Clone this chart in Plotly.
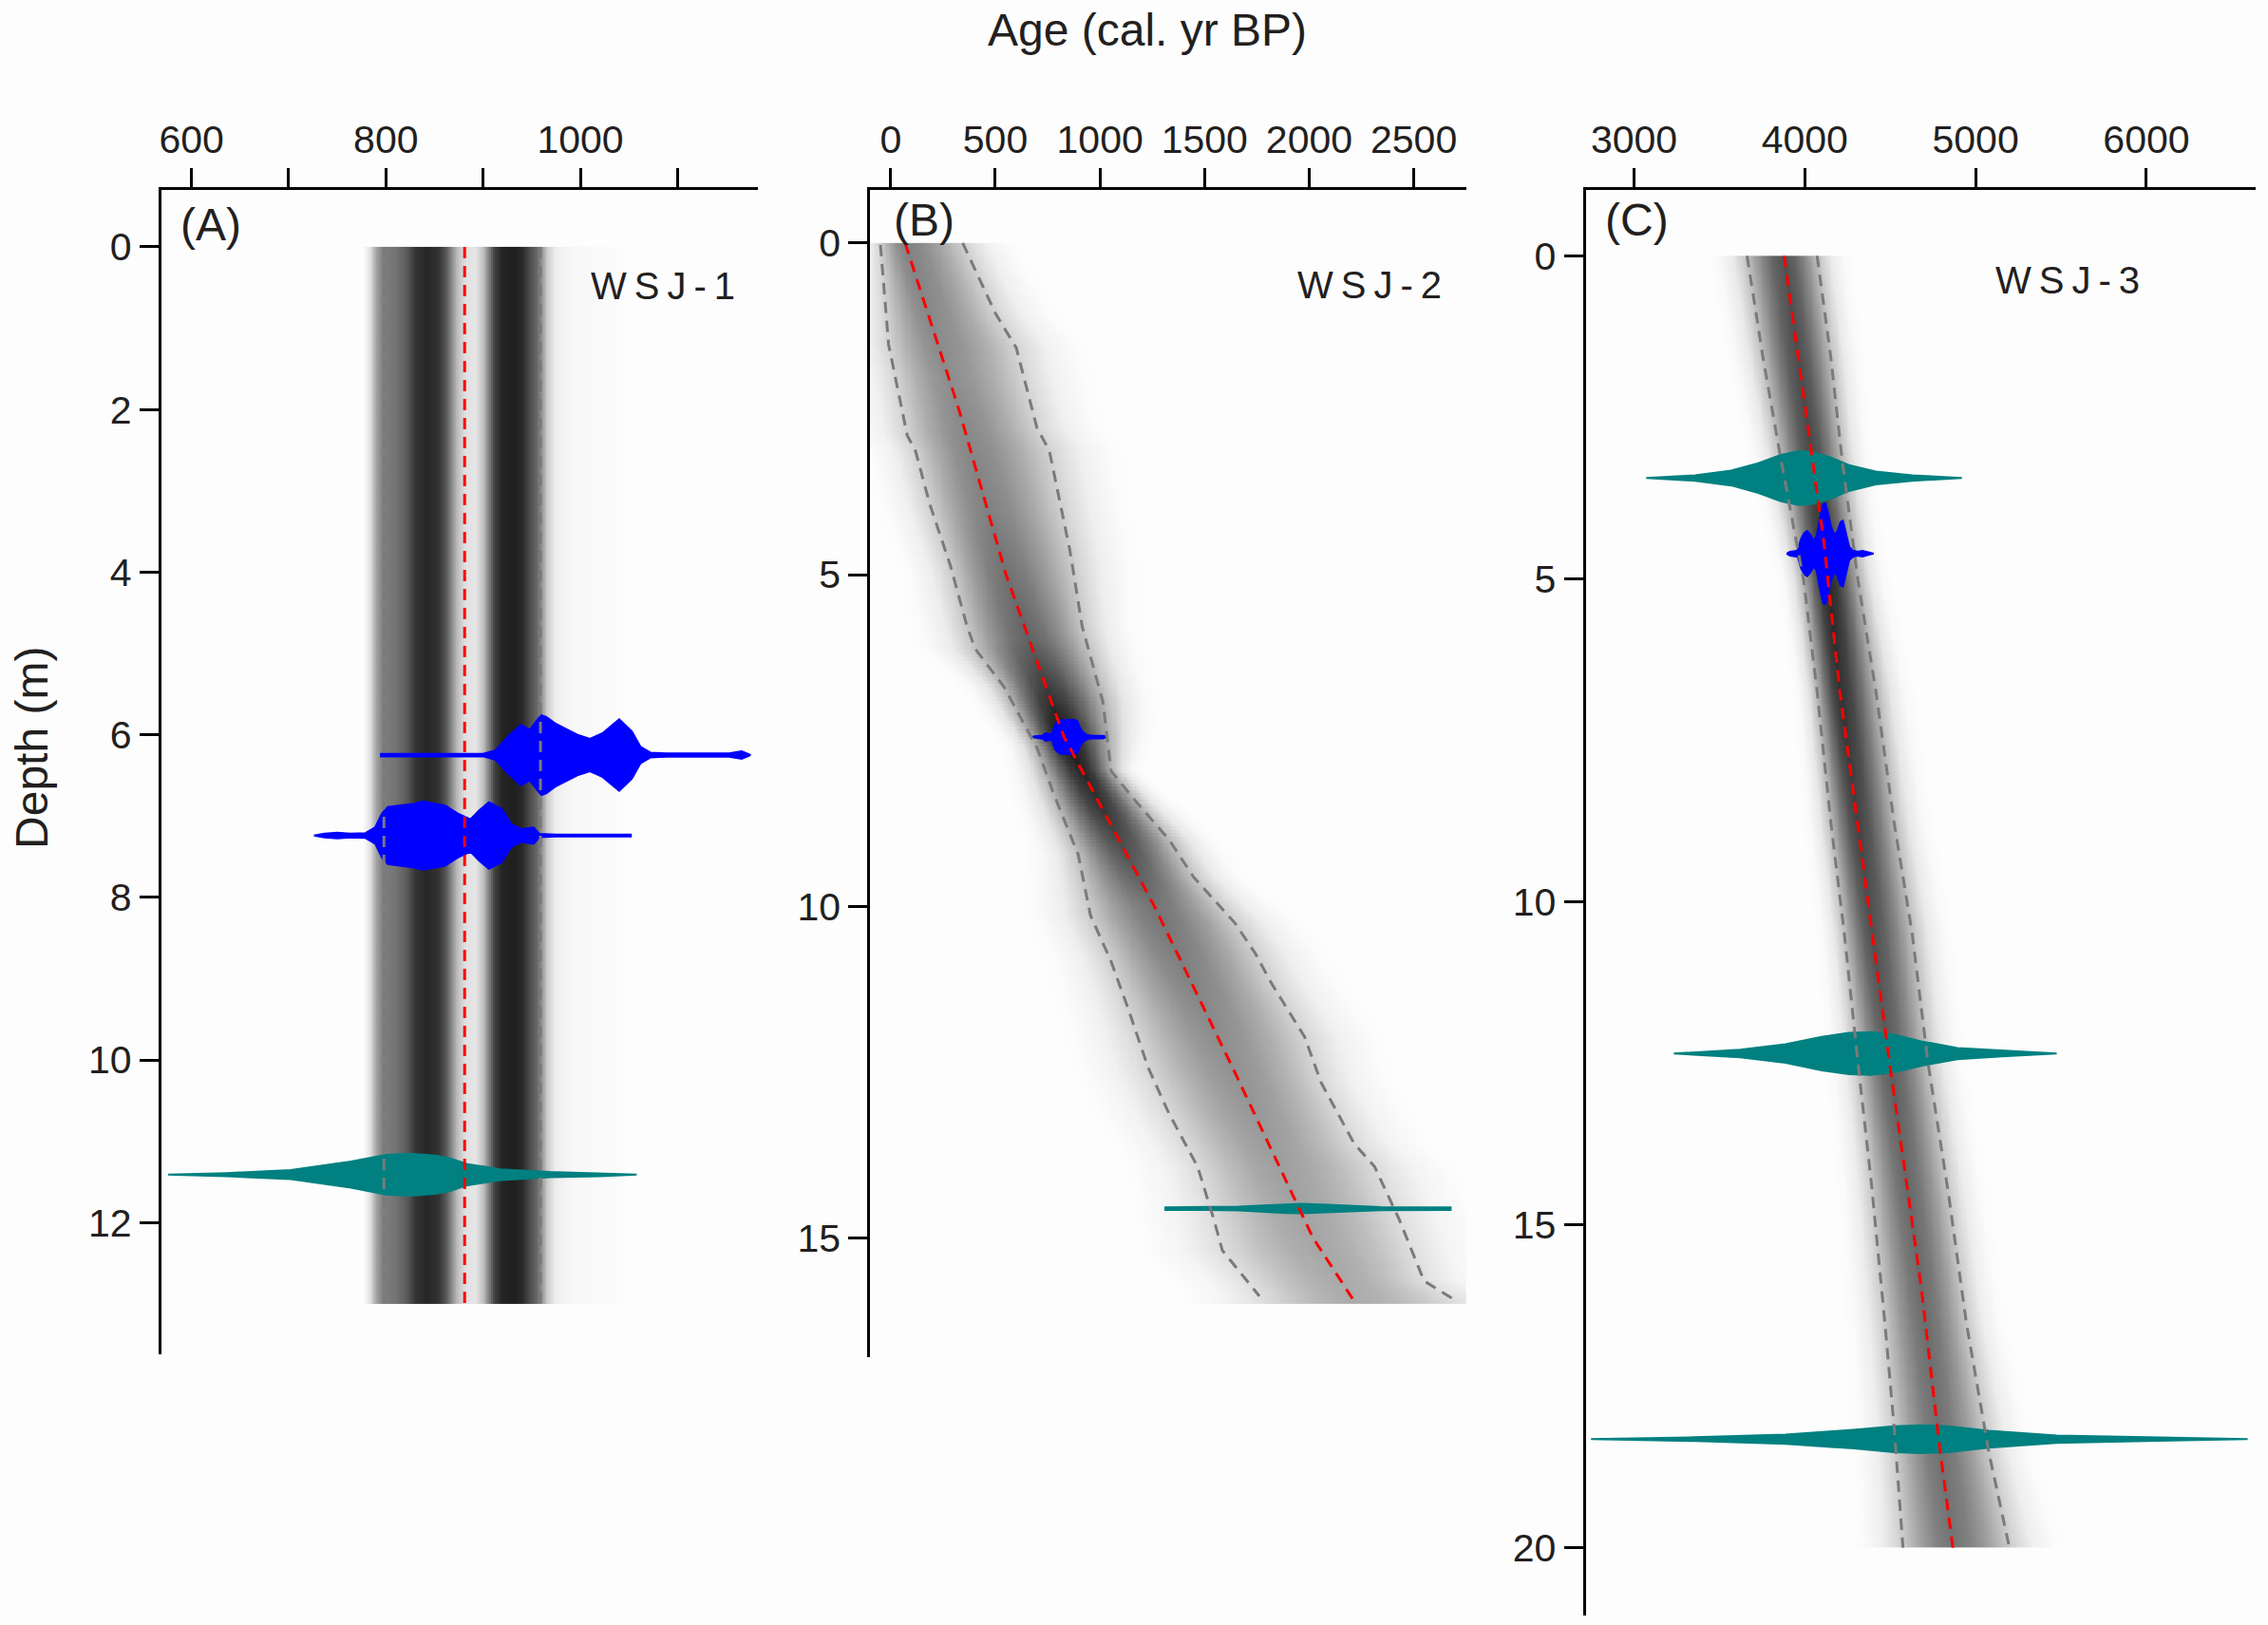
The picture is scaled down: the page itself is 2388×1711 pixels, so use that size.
import numpy as np
import plotly.graph_objects as go

W, H = 2388, 1711
FONT = "Liberation Sans, Arial, sans-serif"
TXT = "#231f20"

# ==========================================
# WSJ-1 (panel A)
# ==========================================
a_depth = [0, 13]
a_mean = [881, 881]
a_lower = [798, 798]
a_upper = [959, 959]
# grey shading across age (model is bimodal, constant with depth)
a_shade_age = [776, 784, 790, 797, 810, 822, 831, 843, 854, 862, 868, 874, 882, 892,
               900, 906, 912, 920, 932, 940, 948, 955, 960, 966, 975, 990, 1040, 1062]
a_shade_val = [0, 0.12, 0.35, 0.5, 0.55, 0.65, 0.8, 0.85, 0.8, 0.65, 0.45, 0.25, 0.12, 0.1,
               0.25, 0.5, 0.75, 0.86, 0.88, 0.84, 0.7, 0.6, 0.45, 0.2, 0.07, 0.03, 0.015, 0]

a_blue1_depth = 6.25
a_blue1_age = [794, 900, 913, 926, 939, 948, 957, 960, 965, 974, 984, 997, 1010, 1023,
               1040, 1053, 1062, 1072, 1088, 1121, 1153, 1166, 1175]
a_blue1_half = [0.016, 0.016, 0.06, 0.23, 0.37, 0.31, 0.45, 0.49, 0.47, 0.39, 0.33, 0.25,
                0.2, 0.27, 0.44, 0.29, 0.1, 0.03, 0.02, 0.02, 0.02, 0.047, 0]

a_blue2_depth = 7.24
a_blue2_age = [726, 737, 750, 763, 779, 789, 796, 802, 815, 828, 838, 851, 861, 874, 887,
               896, 906, 919, 929, 939, 952, 958, 975, 1052]
a_blue2_half = [0, 0.023, 0.035, 0.023, 0.03, 0.1, 0.27, 0.35, 0.37, 0.39, 0.42, 0.39,
                0.37, 0.27, 0.2, 0.31, 0.41, 0.33, 0.14, 0.08, 0.1, 0.02, 0.012, 0.012]

a_teal_depth = 11.41
a_teal_age = [576, 636, 702, 764, 800, 825, 851, 866, 884, 918, 969, 1020, 1058]
a_teal_half = [0, 0.019, 0.056, 0.16, 0.244, 0.258, 0.235, 0.2, 0.13, 0.066, 0.033, 0.019, 0]

# ==========================================
# WSJ-2 (panel B)
# ==========================================
b_mean_depth = [0, 2.5, 5, 7.44, 10, 12.5, 15, 16]
b_mean_age = [69, 325, 551, 827, 1260, 1644, 2018, 2224]
b_lower_depth = [0.03, 1.53, 2.9, 3.13, 3.94, 4.86, 5.77, 6.12, 6.69, 7.61, 8.3, 9.22,
                 10.14, 10.83, 11.52, 12.43, 13.12, 13.93, 14.73, 15.19, 15.88]
b_lower_age = [-49, -10, 79, 118, 187, 285, 364, 404, 541, 699, 778, 896,
               955, 1053, 1132, 1230, 1329, 1467, 1545, 1585, 1762]
b_upper_depth = [0, 1.07, 1.58, 2.79, 3.13, 4.63, 5.78, 6.92, 7.96, 8.42, 8.99, 9.56,
                 10.25, 10.71, 11.17, 11.97, 12.66, 13.58, 13.93, 14.73, 15.65, 15.96]
b_upper_age = [344, 502, 600, 699, 758, 856, 915, 1014, 1053, 1171, 1329, 1447,
               1644, 1742, 1821, 1978, 2057, 2215, 2313, 2431, 2549, 2707]
b_peak_depth = [0, 2, 4, 6, 7.4, 8.5, 10, 12, 14, 16]
b_peak_val = [0.5, 0.45, 0.5, 0.62, 0.92, 0.8, 0.55, 0.45, 0.38, 0.33]

b_blue_depth = 7.45
b_blue_age = [673, 688, 726, 741, 756, 771, 783, 794, 809, 832, 877, 892, 904, 915, 925,
              941, 968, 1013, 1036]
b_blue_half = [0, 0.014, 0.024, 0.057, 0.048, 0.038, 0.167, 0.215, 0.25, 0.26, 0.26,
               0.24, 0.14, 0.086, 0.057, 0.029, 0.019, 0.019, 0]

b_teal_depth = 14.56
b_teal_age = [1308, 1512, 1663, 1784, 1890, 1965, 2086, 2222, 2343, 2495, 2676]
b_teal_half = [0.019, 0.019, 0.029, 0.048, 0.067, 0.072, 0.057, 0.038, 0.024, 0.019, 0.019]

# ==========================================
# WSJ-3 (panel C)
# ==========================================
c_mean_depth = [0, 4.44, 6.74, 9.9, 12.49, 15.95, 18.39, 20]
c_mean_age = [3879, 4112, 4205, 4364, 4496, 4681, 4787, 4867]
c_lower_depth = [0, 1.57, 3.15, 5.02, 6.74, 8.76, 10.48, 12.49, 14.36, 16.52, 18.1, 20]
c_lower_age = [3662, 3755, 3860, 3993, 4072, 4152, 4231, 4311, 4390, 4469, 4522, 4575]
c_upper_depth = [0, 1.57, 3.15, 5.02, 6.74, 8.76, 10.48, 12.49, 14.5, 16.52, 18.53, 20]
c_upper_age = [4072, 4152, 4218, 4311, 4416, 4522, 4628, 4721, 4840, 4946, 5078, 5198]
c_peak_depth = [0, 3, 5, 7, 10, 14, 20]
c_peak_val = [0.68, 0.72, 0.85, 0.8, 0.7, 0.6, 0.55]

c_blue_depth = 4.61
c_blue_age = [3894, 3913, 3940, 3959, 3977, 3996, 4014, 4033, 4051, 4070, 4088, 4107,
              4120, 4135, 4153, 4172, 4190, 4209, 4223, 4242, 4260, 4282, 4310, 4338,
              4366, 4403]
c_blue_half = [0, 0.03, 0.04, 0.05, 0.22, 0.32, 0.35, 0.29, 0.2, 0.27, 0.54, 0.76,
               0.78, 0.64, 0.42, 0.29, 0.34, 0.49, 0.51, 0.29, 0.1, 0.05, 0.03, 0.044,
               0.025, 0]

c_teal1_depth = 3.44
c_teal1_age = [3071, 3357, 3569, 3728, 3860, 3966, 4046, 4152, 4258, 4416, 4628, 4920]
c_teal1_half = [0, 0.043, 0.115, 0.23, 0.36, 0.417, 0.40, 0.32, 0.2, 0.1, 0.043, 0]
c_teal2_depth = 12.35
c_teal2_age = [3233, 3622, 3887, 4099, 4258, 4390, 4522, 4681, 4893, 5158, 5475]
c_teal2_half = [0, 0.058, 0.144, 0.26, 0.32, 0.33, 0.29, 0.19, 0.086, 0.043, 0]
c_teal3_depth = 18.32
c_teal3_age = [2748, 3357, 3887, 4284, 4522, 4681, 4840, 5078, 5475, 6005, 6593]
c_teal3_half = [0, 0.029, 0.072, 0.144, 0.2, 0.216, 0.2, 0.13, 0.058, 0.029, 0]

# cross-section of the grey density band (offset in units of the 95% half-range)
prof_u = [0, 0.3, 0.6, 0.9, 1.1, 1.4, 1.8, 2.3]
prof_v = [1, 0.9, 0.7, 0.45, 0.3, 0.12, 0.03, 0]

BLUE = "#0000ff"
TEAL = "#008080"
GREY = "#7a7a7a"


def band_z(d_edges, a_edges, md, ma, ld, la, ud, ua, pd_, pv):
    dc = (np.array(d_edges[:-1]) + np.array(d_edges[1:])) / 2
    ac = (np.array(a_edges[:-1]) + np.array(a_edges[1:])) / 2
    m = np.interp(dc, md, ma)[:, None]
    lo = np.interp(dc, ld, la)[:, None]
    up = np.interp(dc, ud, ua)[:, None]
    pk = np.interp(dc, pd_, pv)[:, None]
    A = ac[None, :]
    u = np.where(A < m, (m - A) / (m - lo), (A - m) / (up - m))
    z = pk * np.interp(u, prof_u, prof_v)
    return np.where(z < 0.01, np.nan, z)


def shade(x, y, z, xa, ya):
    return go.Heatmap(x=x, y=y, z=z, xaxis=xa, yaxis=ya, zmin=0, zmax=1,
                      colorscale=[[0, "#ffffff"], [1, "#000000"]], showscale=False,
                      hoverinfo="skip", zsmooth=False)


def dist(ages, half, depth, color, xa, ya):
    xs = list(ages) + list(ages)[::-1]
    ys = [depth - h for h in half] + [depth + h for h in half][::-1]
    return go.Scatter(x=xs, y=ys, xaxis=xa, yaxis=ya, mode="lines", fill="toself",
                      fillcolor=color, line=dict(color=color, width=2), hoverinfo="skip")


def dline(x, y, color, xa, ya, dash="12px,8px"):
    return go.Scatter(x=x, y=y, xaxis=xa, yaxis=ya, mode="lines",
                      line=dict(color=color, width=3, dash=dash), hoverinfo="skip")


fig = go.Figure()

# --- panel A ---
a_edges = np.arange(770, 1066, 2.0)
a_cent = (a_edges[:-1] + a_edges[1:]) / 2
a_z = np.interp(a_cent, a_shade_age, a_shade_val)
a_z = np.where(a_z < 0.01, np.nan, a_z)[None, :]
fig.add_trace(shade(a_edges, a_depth, a_z, "x", "y"))
fig.add_trace(dist(a_blue1_age, a_blue1_half, a_blue1_depth, BLUE, "x", "y"))
fig.add_trace(dist(a_blue2_age, a_blue2_half, a_blue2_depth, BLUE, "x", "y"))
fig.add_trace(dist(a_teal_age, a_teal_half, a_teal_depth, TEAL, "x", "y"))
fig.add_trace(dline(a_lower, a_depth, GREY, "x", "y"))
fig.add_trace(dline(a_upper, a_depth, GREY, "x", "y"))
fig.add_trace(dline(a_mean, a_depth, "#ff0000", "x", "y"))

# --- panel B ---
b_d_edges = np.arange(0, 16.001, 0.05)
b_a_edges = np.arange(-100, 2751, 10.0)
b_z = band_z(b_d_edges, b_a_edges, b_mean_depth, b_mean_age, b_lower_depth, b_lower_age,
             b_upper_depth, b_upper_age, b_peak_depth, b_peak_val)
fig.add_trace(shade(b_a_edges, b_d_edges, b_z, "x2", "y2"))
fig.add_trace(dist(b_blue_age, b_blue_half, b_blue_depth, BLUE, "x2", "y2"))
fig.add_trace(dist(b_teal_age, b_teal_half, b_teal_depth, TEAL, "x2", "y2"))
fig.add_trace(dline(b_lower_age, b_lower_depth, GREY, "x2", "y2"))
fig.add_trace(dline(b_upper_age, b_upper_depth, GREY, "x2", "y2"))
fig.add_trace(dline(b_mean_age, b_mean_depth, "#ff0000", "x2", "y2"))

# --- panel C ---
c_d_edges = np.arange(0, 20.001, 0.05)
c_a_edges = np.arange(3400, 5501, 5.0)
c_z = band_z(c_d_edges, c_a_edges, c_mean_depth, c_mean_age, c_lower_depth, c_lower_age,
             c_upper_depth, c_upper_age, c_peak_depth, c_peak_val)
fig.add_trace(shade(c_a_edges, c_d_edges, c_z, "x3", "y3"))
fig.add_trace(dist(c_teal1_age, c_teal1_half, c_teal1_depth, TEAL, "x3", "y3"))
fig.add_trace(dist(c_blue_age, c_blue_half, c_blue_depth, BLUE, "x3", "y3"))
fig.add_trace(dist(c_teal2_age, c_teal2_half, c_teal2_depth, TEAL, "x3", "y3"))
fig.add_trace(dist(c_teal3_age, c_teal3_half, c_teal3_depth, TEAL, "x3", "y3"))
fig.add_trace(dline(c_lower_age, c_lower_depth, GREY, "x3", "y3"))
fig.add_trace(dline(c_upper_age, c_upper_depth, GREY, "x3", "y3"))
fig.add_trace(dline(c_mean_age, c_mean_depth, "#ff0000", "x3", "y3"))


def xax(x0, x1, rng, vals, text, anchor):
    return dict(domain=[x0 / W, x1 / W], range=rng, side="top", anchor=anchor,
                showline=True, linecolor="black", linewidth=3, mirror=False,
                ticks="outside", ticklen=20, tickwidth=3, tickcolor="black",
                tickvals=vals, ticktext=text, showgrid=False, zeroline=False,
                tickfont=dict(family=FONT, size=41, color=TXT))


def yax(top, bot, rng, vals, anchor):
    return dict(domain=[1 - bot / H, 1 - top / H], range=rng, anchor=anchor,
                showline=True, linecolor="black", linewidth=3,
                ticks="outside", ticklen=20, tickwidth=3, tickcolor="black",
                tickvals=vals, ticktext=[str(v) for v in vals], showgrid=False,
                zeroline=False, tickfont=dict(family=FONT, size=41, color=TXT))


a_ticks = [600, 700, 800, 900, 1000, 1100]
a_ticktext = ["600", "", "800", "", "1000", ""]
b_ticks = [0, 500, 1000, 1500, 2000, 2500]
c_ticks = [3000, 4000, 5000, 6000]

fig.update_layout(
    width=W, height=H, margin=dict(l=0, r=0, t=0, b=0),
    paper_bgcolor="#fdfdfd", plot_bgcolor="rgba(0,0,0,0)", showlegend=False,
    font=dict(family=FONT, color=TXT),
    xaxis=xax(168, 797, [569, 1183], a_ticks, a_ticktext, "y"),
    yaxis=yax(200, 1426, [13.62, -0.70], [0, 2, 4, 6, 8, 10, 12], "x"),
    xaxis2=xax(915, 1543, [-98, 2750], b_ticks, [str(v) for v in b_ticks], "y2"),
    yaxis2=yax(200, 1429, [16.8, -0.8], [0, 5, 10, 15], "x2"),
    xaxis3=xax(1669, 2375, [2717, 6640], c_ticks, [str(v) for v in c_ticks], "y3"),
    yaxis3=yax(200, 1701, [21.05, -1.02], [0, 5, 10, 15, 20], "x3"),
)


def label(text, px, py, size, angle=0):
    fig.add_annotation(text=text, x=px / W, y=1 - py / H, xref="paper", yref="paper",
                       showarrow=False, xanchor="center", yanchor="middle", textangle=angle,
                       font=dict(family=FONT, size=size, color=TXT))


label("Age (cal. yr BP)", 1207, 31, 48)
label("Depth (m)", 31, 787, 48, angle=-90)
label("(A)", 220, 236, 48)
label("(B)", 972, 232, 48)
label("(C)", 1723, 232, 48)
ts = "\u2009"
label(ts.join("WSJ-1"), 697, 301, 40)
label(ts.join("WSJ-2"), 1441, 300, 40)
label(ts.join("WSJ-3"), 2177, 295, 40)

# drop the page's default body margin so the figure sits at the window origin
fig.write_html("out.html", config={"displayModeBar": False},
               post_script="document.body.style.margin='0';")
